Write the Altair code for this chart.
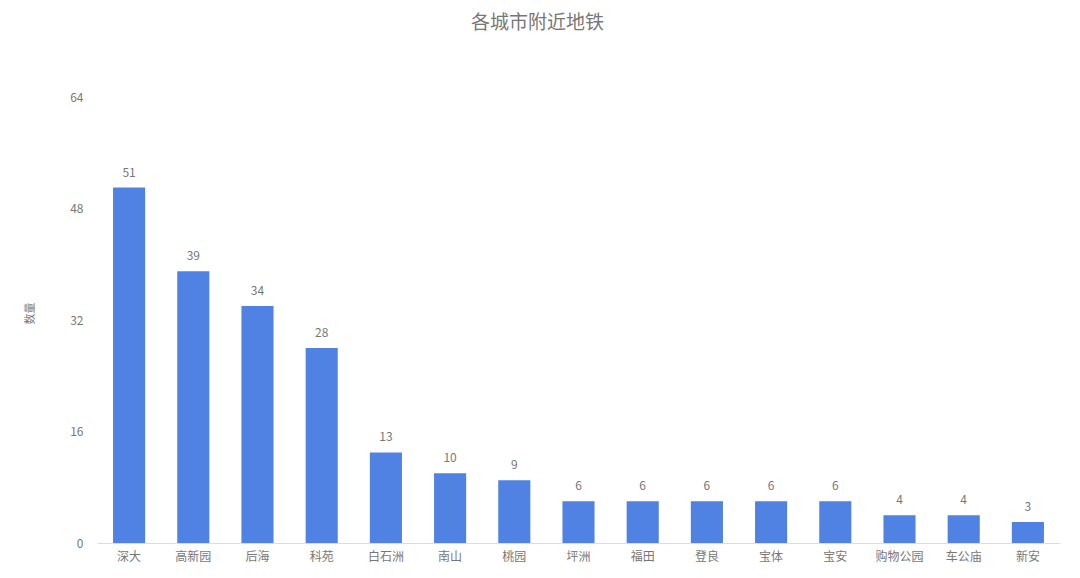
import altair as alt
import pandas as pd

stations = ["深大", "高新园", "后海", "科苑", "白石洲", "南山", "桃园", "坪洲", "福田", "登良", "宝体", "宝安", "购物公园", "车公庙", "新安"]
counts = [51, 39, 34, 28, 13, 10, 9, 6, 6, 6, 6, 6, 4, 4, 3]
y_ticks = [0, 16, 32, 48, 64]

df = pd.DataFrame({"station": stations, "count": counts})
FONT = "Noto Sans CJK SC"
GRAY = "#777777"

x = alt.X("station:N", sort=stations, title=None,
          scale=alt.Scale(paddingInner=0.5, paddingOuter=0.25),
          axis=alt.Axis(labelAngle=0, labelColor=GRAY, labelFontSize=12, labelFont=FONT,
                        ticks=False, domainColor="#dddddd", labelPadding=8))
y = alt.Y("count:Q", title="数量",
          scale=alt.Scale(domain=[0, 64], nice=False),
          axis=alt.Axis(values=y_ticks, grid=False, domain=False, ticks=False,
                        labelColor=GRAY, labelFontSize=12, labelFont=FONT, labelPadding=14,
                        titleAngle=-90, titleX=-62, titleY=216, titleFont=FONT,
                        titleFontSize=11, titleColor=GRAY, titleFontWeight="normal"))

bars = alt.Chart(df).mark_bar(color="#5082E4").encode(x=x, y=y)
labels = alt.Chart(df).mark_text(dy=-8, baseline="bottom", color=GRAY, fontSize=12, font=FONT).encode(
    x=alt.X("station:N", sort=stations), y="count:Q", text="count:Q")

chart = (bars + labels).properties(
    width=963, height=446,
    title=alt.TitleParams("各城市附近地铁", fontSize=19, font=FONT, color=GRAY,
                          fontWeight="normal", anchor="middle", dx=-41, offset=58),
    autosize=alt.AutoSizeParams(type="none"),
    padding={"left": 89, "top": 89, "right": 12, "bottom": 30},
).configure_view(stroke=None)

chart.save("out.html", embed_options={"renderer": "svg", "actions": False})
